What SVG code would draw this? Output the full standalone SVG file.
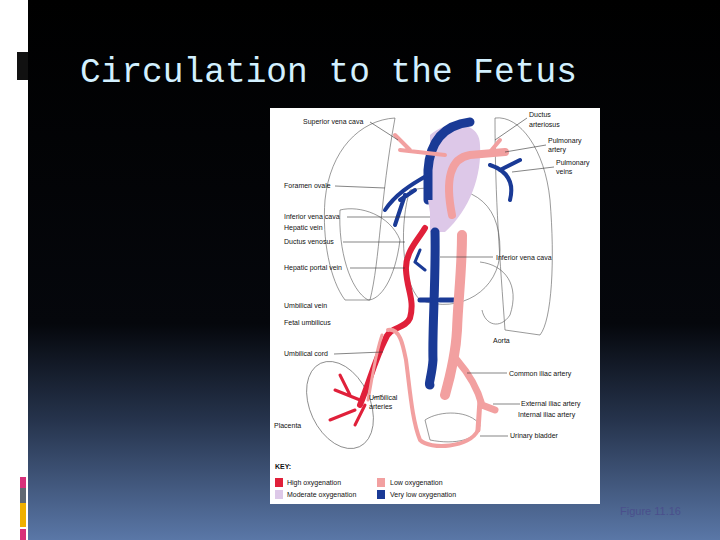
<svg xmlns="http://www.w3.org/2000/svg" width="720" height="540" viewBox="0 0 720 540">
<defs>
<linearGradient id="bg" x1="0" y1="0" x2="0" y2="1">
<stop offset="0" stop-color="#000"/><stop offset="0.6" stop-color="#05070c"/><stop offset="0.78" stop-color="#26344d"/><stop offset="1" stop-color="#5a77a7"/>
</linearGradient>
<style>
.lb{font-family:"Liberation Sans",Arial,sans-serif;font-size:7px;fill:#111}
.ln{stroke:#333;stroke-width:0.6;fill:none}
.ol{stroke:#555;stroke-width:0.6;fill:none}
.red{stroke:#e0203a;fill:none;stroke-linecap:round}
.pink{stroke:#f2a0a0;fill:none;stroke-linecap:round}
.blue{stroke:#1a3a96;fill:none;stroke-linecap:round}
</style>
</defs>
<rect width="720" height="540" fill="#fff"/>
<rect x="28" y="0" width="692" height="540" fill="url(#bg)"/>
<rect x="17" y="52" width="11" height="28" fill="#111"/>
<rect x="20" y="477" width="6" height="11" fill="#d8307a"/>
<rect x="20" y="488" width="6" height="15" fill="#606872"/>
<rect x="20" y="503" width="6" height="24" fill="#f0b000"/>
<rect x="20" y="529" width="6" height="11" fill="#d8307a"/>
<text x="80" y="82" font-family="Liberation Mono,monospace" font-size="34.5" fill="#d2f0ff">Circulation to the Fetus</text>
<text x="620" y="515" font-family="Liberation Sans,Arial,sans-serif" font-size="11" fill="#4a4f8c">Figure 11.16</text>

<g id="figure">
<rect x="270" y="108" width="330" height="396" fill="#fff"/>
<!-- lungs and organs outlines -->
<path class="ol" d="M395,118 C360,120 330,150 325,200 C322,240 330,280 345,300 L370,300 C380,260 380,200 395,118Z"/>
<path class="ol" d="M495,118 C520,115 545,150 550,200 C555,260 552,320 540,335 L505,330 C500,260 495,200 495,118Z"/>
<path class="ol" d="M410,190 C470,180 500,200 500,250 C500,290 460,315 420,300 C400,280 400,220 410,190Z"/>
<path class="ol" d="M340,210 C360,205 390,215 400,240 C395,280 380,300 368,300 C350,290 338,250 340,210Z"/>
<path class="ol" d="M480,262 C505,265 520,285 510,315 C500,330 485,325 482,310"/>
<ellipse class="ol" cx="340" cy="405" rx="30" ry="46" transform="rotate(-25 340 405)"/>
<path class="ol" d="M425,420 C440,410 470,410 480,425 C478,440 455,445 430,440Z"/>
<!-- heart lavender -->
<path d="M430,135 C450,118 480,122 480,145 C482,175 470,210 445,232 L430,232 Z" fill="#ddc8e8"/>
<!-- vessels -->
<path class="blue" stroke-width="9" d="M470,122 C445,125 430,140 428,170 L428,200"/>
<path class="blue" stroke-width="4" d="M428,175 C410,185 395,195 385,210 M405,195 L395,225 M415,190 L400,200"/>
<path class="blue" stroke-width="4" d="M490,165 C505,170 515,180 510,200 M500,170 L520,160"/>
<path class="pink" stroke-width="8" d="M452,215 C445,180 450,158 470,155 L505,152"/>
<path class="pink" stroke-width="4" d="M445,155 L400,150 M410,150 L395,135 M490,152 L500,140"/>
<path d="M428,200 L433,232 L440,232 L436,200 Z" fill="#ddc8e8"/>
<path class="blue" stroke-width="9" d="M435,232 C436,280 432,330 433,360 C432,375 428,385 430,385"/>
<path class="blue" stroke-width="5" d="M430,300 L420,300 M440,300 L455,300"/>
<path class="pink" stroke-width="10" d="M462,235 C462,270 458,300 457,330 C456,350 452,370 445,395"/>
<path class="pink" stroke-width="7" d="M457,360 C470,375 478,390 482,405 L495,410"/>
<path class="pink" stroke-width="5" d="M480,400 L478,430"/>
<path class="red" stroke-width="6" d="M425,228 C418,240 405,252 406,270 C407,290 415,300 410,318 C405,330 390,325 385,340 C375,360 370,380 360,405"/>
<path class="red" stroke-width="3" d="M360,400 L335,390 M355,410 L330,420 M365,405 L355,425 M350,395 L340,375"/>
<path class="blue" stroke-width="3" d="M415,262 L420,250 M415,262 L425,270"/>
<path class="pink" stroke-width="4" d="M388,330 C400,328 403,345 406,360 C410,390 412,420 420,440 C430,450 470,448 478,430"/>
<path class="pink" stroke-width="3" d="M382,335 C375,355 372,380 368,400"/>
</g>

<g id="leaders">
<path class="ln" d="M370,122 L398,140 M527,118 L495,140 M546,145 L505,152 M554,167 L512,172 M335,186 L385,188 M347,217 L430,217 M343,242 L405,242 M350,268 L405,268 M493,257 L440,257 M334,354 L383,352 M507,373 L467,373 M373,398 L383,395 M520,404 L493,404 M508,436 L480,436"/>
</g>

<g id="labels">
<text class="lb" x="303" y="124">Superior vena cava</text>
<text class="lb" x="529" y="117">Ductus</text><text class="lb" x="529" y="127">arteriosus</text>
<text class="lb" x="548" y="143">Pulmonary</text><text class="lb" x="548" y="152">artery</text>
<text class="lb" x="556" y="165">Pulmonary</text><text class="lb" x="556" y="174">veins</text>
<text class="lb" x="284" y="188">Foramen ovale</text>
<text class="lb" x="284" y="219">Inferior vena cava</text>
<text class="lb" x="284" y="230">Hepatic vein</text>
<text class="lb" x="284" y="244">Ductus venosus</text>
<text class="lb" x="284" y="270">Hepatic portal vein</text>
<text class="lb" x="496" y="260">Inferior vena cava</text>
<text class="lb" x="284" y="308">Umbilical vein</text>
<text class="lb" x="284" y="325">Fetal umbilicus</text>
<text class="lb" x="284" y="356">Umbilical cord</text>
<text class="lb" x="493" y="343">Aorta</text>
<text class="lb" x="509" y="376">Common iliac artery</text>
<text class="lb" x="369" y="400">Umbilical</text><text class="lb" x="369" y="409">arteries</text>
<text class="lb" x="521" y="406">External iliac artery</text>
<text class="lb" x="518" y="417">Internal iliac artery</text>
<text class="lb" x="274" y="428">Placenta</text>
<text class="lb" x="510" y="438">Urinary bladder</text>
<text class="lb" x="275" y="469" font-weight="bold">KEY:</text>
</g>
<g id="legend">
<rect x="275" y="478" width="8" height="9" fill="#e0203a"/>
<text class="lb" x="287" y="485">High oxygenation</text>
<rect x="377" y="478" width="8" height="9" fill="#f2a0a0"/>
<text class="lb" x="390" y="485">Low oxygenation</text>
<rect x="275" y="490" width="8" height="9" fill="#ddc8e8"/>
<text class="lb" x="287" y="497">Moderate oxygenation</text>
<rect x="377" y="490" width="8" height="9" fill="#1a3a96"/>
<text class="lb" x="390" y="497">Very low oxygenation</text>
</g>
</svg>
